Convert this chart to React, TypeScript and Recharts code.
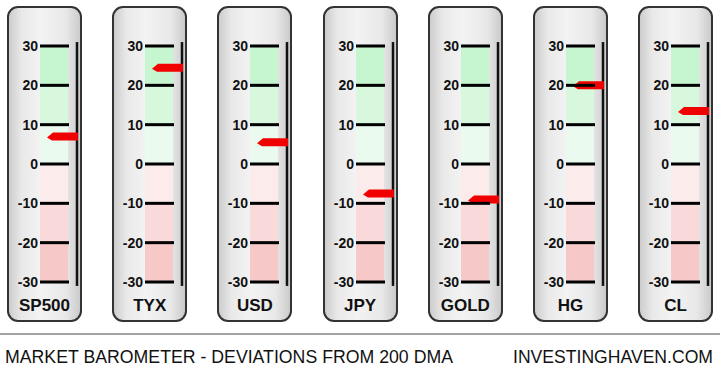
import { ComposedChart, XAxis, YAxis, ReferenceArea, ReferenceLine, Scatter } from 'recharts'

const tickers = ['SP500', 'TYX', 'USD', 'JPY', 'GOLD', 'HG', 'CL']
const deviations = [7, 24.5, 5.5, -7.5, -9, 20, 13.5]
const yTicks = [-30, -20, -10, 0, 10, 20, 30]
const bandEdges = [30, 20, 10, 0, -10, -20, -30]
const bandColors = ['#c6f6cf', '#d8f8de', '#ebfaef', '#fcebeb', '#f9d9d9', '#f7c8c8']

const sans = '"Liberation Sans", Arial, sans-serif'

function GaugeTick(props: any) {
  const { x, y, payload } = props
  return (
    <g>
      <text x={x} y={y} dy={5} textAnchor="end" fontSize={14} fontWeight="bold" fill="#111" fontFamily={sans}>
        {payload.value}
      </text>
      <line x1={x + 2} x2={x + 31} y1={y} y2={y} stroke="#000" strokeWidth={3} />
    </g>
  )
}

function Arrow(props: any) {
  const { cx, cy } = props
  const x0 = cx - 15.5
  const x1 = cx + 15.5
  const pts = `${x0},${cy + 1} ${x0 + 6},${cy - 4} ${x1},${cy - 4} ${x1},${cy + 4} ${x0 + 5},${cy + 4}`
  return <polygon points={pts} fill="#f00000" />
}

function Gauge({ name, value, left }: { name: string; value: number; left: number }) {
  return (
    <div
      style={{
        position: 'absolute',
        left,
        top: 6,
        width: 75,
        height: 316,
        boxSizing: 'border-box',
        border: '2px solid #333',
        borderRadius: 11,
        background: 'linear-gradient(to right, #cdcdcd 0%, #e9e9e9 18%, #f3f3f3 45%, #e8e8e8 80%, #cbcbcb 100%)',
      }}
    >
      <ComposedChart
        width={71}
        height={312}
        data={[{ x: 22.5, y: value }]}
        margin={{ top: 38, right: 1, bottom: 38, left: 0 }}
        style={{ position: 'absolute', left: 0, top: 0 }}
      >
        <XAxis type="number" dataKey="x" domain={[0, 39]} hide />
        <YAxis
          type="number"
          dataKey="y"
          domain={[-30, 30]}
          ticks={yTicks}
          width={31}
          axisLine={false}
          tickLine={false}
          tickSize={0}
          tickMargin={2}
          interval={0}
          tick={<GaugeTick />}
        />
        {bandColors.map((c, i) => (
          <ReferenceArea key={i} x1={0} x2={28} y1={bandEdges[i + 1]} y2={bandEdges[i]} fill={c} fillOpacity={1} stroke="none" />
        ))}
        <ReferenceLine
          segment={[{ x: 37, y: -31 }, { x: 37, y: 31 }]}
          stroke="#111"
          strokeWidth={2.5}
          ifOverflow="visible"
        />
        <Scatter dataKey="y" shape={<Arrow />} isAnimationActive={false} />
      </ComposedChart>
      <div
        style={{
          position: 'absolute',
          left: 0,
          top: 288,
          width: '100%',
          textAlign: 'center',
          lineHeight: '20px',
          fontSize: 17,
          fontWeight: 'bold',
          color: '#111',
          fontFamily: sans,
        }}
      >
        {name}
      </div>
    </div>
  )
}

export default function App() {
  return (
    <div style={{ position: 'absolute', left: 0, top: 0, width: 720, height: 371, background: '#fff', overflow: 'hidden' }}>
      {tickers.map((t, i) => (
        <Gauge key={t} name={t} value={deviations[i]} left={7 + i * 105.2} />
      ))}
      <div style={{ position: 'absolute', left: 0, top: 333, width: 720, height: 2, background: '#a3a3a3' }} />
      <svg width={720} height={36} style={{ position: 'absolute', left: 0, top: 335 }}>
        <text x={5} y={28} fontSize={18} fill="#111" fontFamily={sans} textLength={448} lengthAdjust="spacingAndGlyphs">
          MARKET BAROMETER - DEVIATIONS FROM 200 DMA
        </text>
        <text x={513} y={28} fontSize={18} fill="#111" fontFamily={sans} textLength={200} lengthAdjust="spacingAndGlyphs">
          INVESTINGHAVEN.COM
        </text>
      </svg>
    </div>
  )
}
